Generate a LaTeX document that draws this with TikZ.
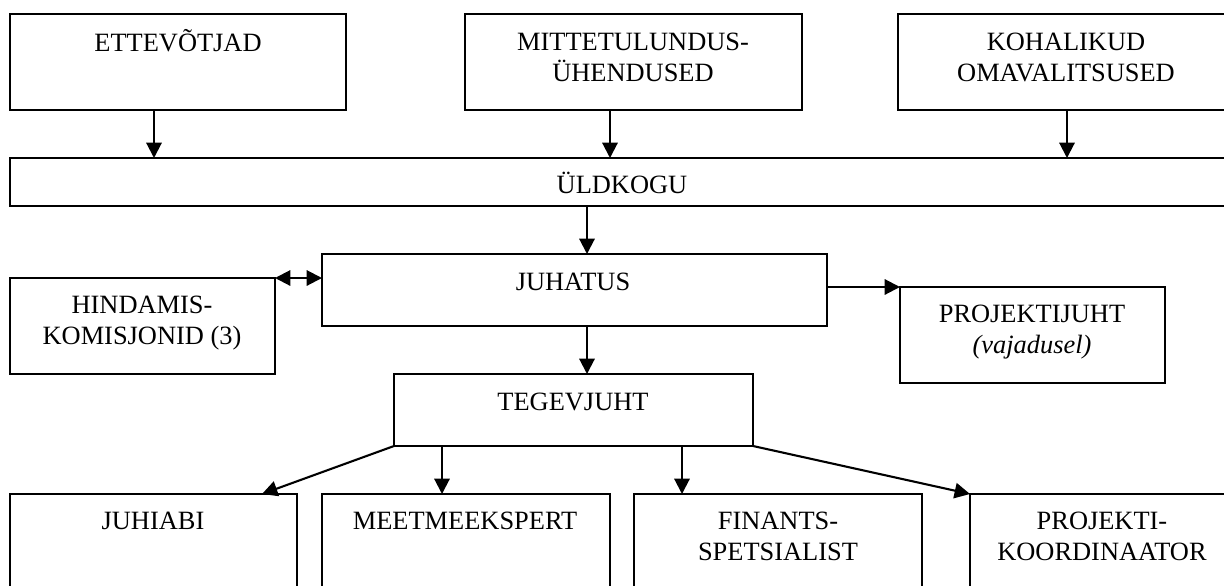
\documentclass[tikz,border=0pt]{standalone}
\usepackage{fontspec}
\setmainfont{Liberation Serif}
\usetikzlibrary{arrows.meta}
\newcommand{\mybox}[5]{\node[box, minimum width={(#4-#2)*0.4545pt}, minimum height={(#5-#3)*0.4545pt}] (#1) at ({(#2+#4)/2},{(#3+#5)/2}) {};}
\begin{document}
\begin{tikzpicture}[x=0.4545pt,y=-0.4545pt,
  box/.style={draw, line width=0.95pt, rectangle, inner sep=0pt, outer sep=0pt},
  lbl/.style={font=\fontsize{12}{14.4}\selectfont, inner sep=0pt, anchor=base, align=center},
  arr/.style={line width=0.95pt, -{Triangle[length=7pt,width=7pt]}},
  darr/.style={line width=0.95pt, {Triangle[length=7pt,width=7pt]}-{Triangle[length=7pt,width=7pt]}}]
\useasboundingbox (0,0) rectangle (1224,585);
\clip (0,0) rectangle (1224,585);
% boxes
\mybox{ett}{10}{14}{346}{110}
\mybox{mtu}{465}{14}{802}{110}
\mybox{koh}{898}{14}{1234}{110}
\mybox{uld}{10}{158}{1234}{206}
\mybox{juh}{322}{254}{827}{326}
\mybox{hin}{10}{278}{275}{374}
\mybox{pj}{900}{287}{1165}{383}
\mybox{teg}{394}{374}{753}{446}
\mybox{jab}{10}{494}{297}{600}
\mybox{mee}{322}{494}{610}{600}
\mybox{fin}{634}{494}{922}{600}
\mybox{pk}{970}{494}{1234}{600}
% texts (anchor=base gives the baseline of the last line)
\node[lbl] (tett) at (178,51) {ETTEVÕTJAD};
\node[lbl] (tmtu) at (633,81.7) {MITTETULUNDUS-\\ÜHENDUSED};
\node[lbl] (tkoh) at (1066,81.7) {KOHALIKUD\\OMAVALITSUSED};
\node[lbl] (tuld) at (622,193) {ÜLDKOGU};
\node[lbl] (tjuh) at (573,290) {JUHATUS};
\node[lbl] (thin) at (142,344.7) {HINDAMIS-\\KOMISJONID (3)};
\node[lbl] (tpj) at (1032,353.7) {PROJEKTIJUHT\\\textit{(vajadusel)}};
\node[lbl] (tteg) at (573,410) {TEGEVJUHT};
\node[lbl] (tjab) at (153,529) {JUHIABI};
\node[lbl] (tmee) at (465,529) {MEETMEEKSPERT};
\node[lbl] (tfin) at (778,560.7) {FINANTS-\\SPETSIALIST};
\node[lbl] (tpk) at (1102,560.7) {PROJEKTI-\\KOORDINAATOR};
% connector x positions
\coordinate (x1) at (154,0);
\coordinate (x2) at (610,0);
\coordinate (x3) at (1067,0);
\coordinate (x4) at (587,0);
\coordinate (x5) at (262,0);
\coordinate (x6) at (442,0);
\coordinate (x7) at (682,0);
% connectors
\draw[arr] (ett.south -| x1) -- (uld.north -| x1);
\draw[arr] (mtu.south -| x2) -- (uld.north -| x2);
\draw[arr] (koh.south -| x3) -- (uld.north -| x3);
\draw[arr] (uld.south -| x4) -- (juh.north -| x4);
\draw[arr] (juh.south -| x4) -- (teg.north -| x4);
\draw[darr] (hin.north east) -- (juh.west |- hin.north east);
\draw[arr] (juh.east |- pj.north west) -- (pj.north west);
\draw[arr] (teg.south west) -- (jab.north -| x5);
\draw[arr] (teg.south -| x6) -- (mee.north -| x6);
\draw[arr] (teg.south -| x7) -- (fin.north -| x7);
\draw[arr] (teg.south east) -- (pk.north west);
\end{tikzpicture}
\end{document}
